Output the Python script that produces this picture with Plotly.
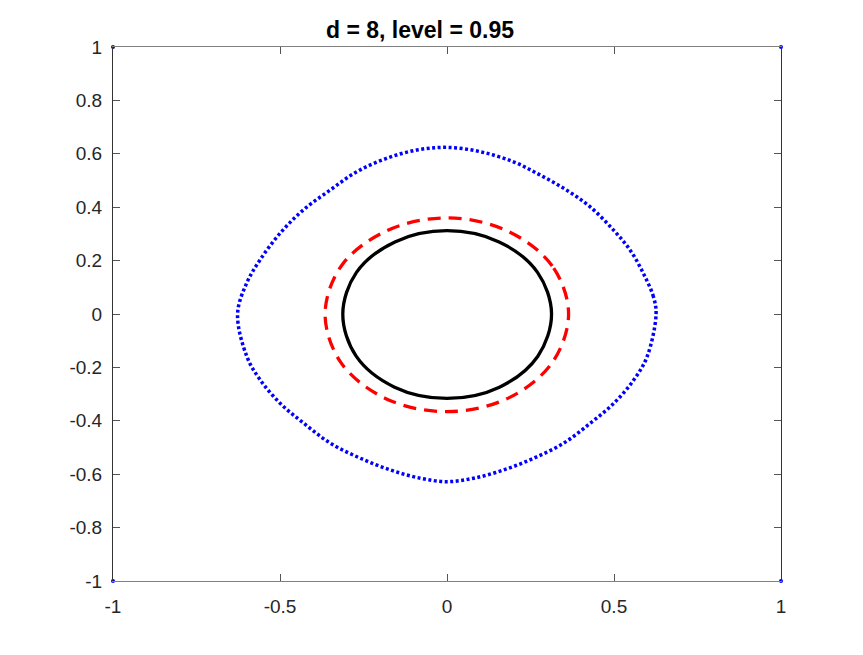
import plotly.graph_objects as go

# ---- data ----
blue_x = [0.626, 0.618, 0.588, 0.548, 0.498, 0.428, 0.358, 0.278, 0.199, 0.099, 0.0,
          -0.091, -0.181, -0.270, -0.350, -0.430, -0.500, -0.560, -0.600, -0.627,
          -0.599, -0.559, -0.499, -0.429, -0.349, -0.260, -0.170, -0.080, 0.0,
          0.080, 0.170, 0.260, 0.349, 0.429, 0.499, 0.559, 0.599, 0.626]
blue_y = [0.0, 0.065, 0.152, 0.240, 0.315, 0.402, 0.464, 0.521, 0.570, 0.608, 0.624,
          0.614, 0.583, 0.533, 0.464, 0.390, 0.302, 0.202, 0.115, 0.0,
          -0.160, -0.247, -0.335, -0.409, -0.484, -0.540, -0.584, -0.615, -0.628,
          -0.615, -0.584, -0.540, -0.484, -0.409, -0.335, -0.247, -0.160, 0.0]

red_x = [0.364, 0.315, 0.181, 0.0, -0.182, -0.316, -0.365, -0.317, -0.183, 0.0, 0.182, 0.315, 0.364]
red_y = [0.0, 0.180, 0.311, 0.360, 0.311, 0.181, 0.0, -0.183, -0.317, -0.366, -0.316, -0.182, 0.0]

black_x = [0.313, 0.271, 0.156, 0.0, -0.156, -0.271, -0.312, -0.272, -0.157, 0.0, 0.157, 0.272, 0.313]
black_y = [0.0, 0.156, 0.270, 0.312, 0.270, 0.156, 0.0, -0.158, -0.274, -0.316, -0.274, -0.158, 0.0]

corner_x = [-1, 1, -1, 1]
corner_y = [1, 1, -1, -1]

x_ticks = [-1, -0.5, 0, 0.5, 1]
x_labels = ["-1", "-0.5", "0", "0.5", "1"]
y_ticks = [-1, -0.8, -0.6, -0.4, -0.2, 0, 0.2, 0.4, 0.6, 0.8, 1]
y_labels = ["-1", "-0.8", "-0.6", "-0.4", "-0.2", "0", "0.2", "0.4", "0.6", "0.8", "1"]

title_text = "d = 8, level = 0.95"

fig = go.Figure()
fig.add_trace(go.Scatter(x=blue_x, y=blue_y, mode="lines",
                         line=dict(color="#0000ff", width=3.5, dash="3px,2.5px", shape="spline"),
                         showlegend=False))
fig.add_trace(go.Scatter(x=red_x, y=red_y, mode="lines",
                         line=dict(color="#ff0000", width=3.3, dash="13px,8px", shape="spline"),
                         showlegend=False))
fig.add_trace(go.Scatter(x=black_x, y=black_y, mode="lines",
                         line=dict(color="#000000", width=3.3, shape="spline"),
                         showlegend=False))
fig.add_trace(go.Scatter(x=corner_x, y=corner_y, mode="markers",
                         marker=dict(color="#0000ff", size=4), cliponaxis=False,
                         showlegend=False))

font_family = "Liberation Sans, Arial, Helvetica, sans-serif"
axis_common = dict(
    range=[-1, 1], showgrid=False, zeroline=False, showline=True, mirror="ticks",
    ticks="inside", ticklen=7, tickwidth=1, tickcolor="#555555",
    tickfont=dict(family=font_family, size=19, color="#262626"),
)
fig.update_xaxes(tickvals=x_ticks, ticktext=x_labels, linecolor="#808080", linewidth=1,
                 ticklabelstandoff=8, **axis_common)
fig.update_yaxes(tickvals=y_ticks, ticktext=y_labels, linecolor="#333333", linewidth=1,
                 ticklabelstandoff=6, **axis_common)

fig.update_layout(
    width=863, height=655,
    margin=dict(l=113, r=82, t=47, b=74),
    paper_bgcolor="white", plot_bgcolor="white",
    title=dict(text="<b>" + title_text + "</b>", x=(420 - 113) / 668, xref="paper", xanchor="center",
               y=1 - 30 / 655, yref="container", yanchor="middle",
               font=dict(family=font_family, size=23, color="#000000")),
)

fig.write_html("out.html")
